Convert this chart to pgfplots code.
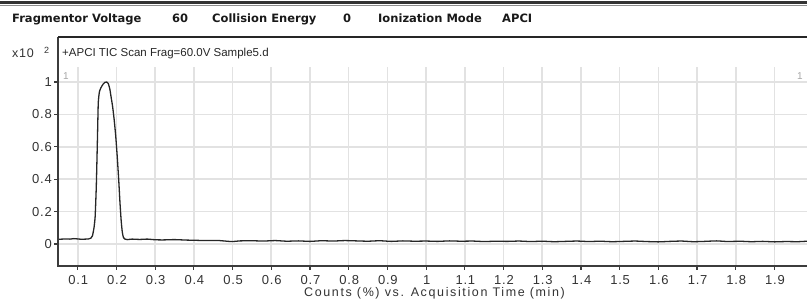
\documentclass[border=0pt]{standalone}
\usepackage{fontspec}
\setmainfont{Liberation Sans}
\newfontfamily\hdr{DejaVu Sans}
\newfontfamily\axf[LetterSpace=13]{Liberation Sans}
\newfontfamily\tkf[LetterSpace=6]{Liberation Sans}
\usepackage{pgfplots}
\pgfplotsset{compat=1.18}
\definecolor{gridc}{HTML}{E2E2E2}
\definecolor{framec}{HTML}{3C3C3C}
\begin{document}
\begin{tikzpicture}[x=1pt,y=1pt]
\useasboundingbox (0,0) rectangle (807,302);
\draw[line width=2.5pt, black!80] (0,299.5) -- (807,299.5);
\draw[line width=1.2pt, black!45] (0,296.5) -- (807,296.5);
\begin{scope}[every node/.style={anchor=base west, inner sep=0pt, font=\hdr\bfseries\fontsize{11.5}{11.5}\selectfont, text=black!90}]
\node at (12,279.5) {Fragmentor Voltage};
\node at (172,279.5) {60};
\node at (212,279.5) {Collision Energy};
\node at (343,279.5) {0};
\node at (378,279.5) {Ionization Mode};
\node at (502,279.5) {APCI};
\end{scope}
\begin{axis}[
  at={(58pt,36pt)}, anchor=south west,
  scale only axis, width=749pt, height=229pt,
  xmin=0.049, xmax=1.984, ymin=-0.136, ymax=1.278,
  axis line style={draw=none},
  xtick={0.1,0.2,0.3,0.4,0.5,0.6,0.7,0.8,0.9,1,1.1,1.2,1.3,1.4,1.5,1.6,1.7,1.8,1.9},
  xticklabels={0.1,0.2,0.3,0.4,0.5,0.6,0.7,0.8,0.9,1,1.1,1.2,1.3,1.4,1.5,1.6,1.7,1.8,1.9},
  ytick={0,0.2,0.4,0.6,0.8,1},
  yticklabels={0,0.2,0.4,0.6,0.8,1},
  tick pos=left, tick align=outside,
  major tick length=4pt,
  tick style={framec, line width=1.2pt},
  ticklabel style={font=\tkf\fontsize{13}{13}\selectfont, text=black!80},
  /pgf/number format/assume math mode=true,
  xticklabel style={inner sep=0pt, yshift=-5pt, xshift=0.5pt},
  yticklabel style={inner sep=0pt, xshift=-2pt},
  xlabel={Counts (\%) vs. Acquisition Time (min)},
  xlabel style={font=\axf\fontsize{12.5}{12.5}\selectfont, text=black!80, inner sep=0pt,
    at={(rel axis cs:0.5,0)}, anchor=base, yshift=-31pt, xshift=2pt},
  clip=false,
]
\pgfplotsinvokeforeach{0.1,0.2,0.3,0.4,0.5,0.6,0.7,0.8,0.9,1,1.1,1.2,1.3,1.4,1.5,1.6,1.7,1.8,1.9}{
  \draw[gridc, line width=1.6pt] (axis cs:#1,-0.136) -- (axis cs:#1,1.09);
}
\pgfplotsinvokeforeach{0,0.2,0.4,0.6,0.8,1}{
  \draw[gridc, line width=1.6pt] (axis cs:0.049,#1) -- (axis cs:1.984,#1);
}
\addplot[black!85, line width=1.3pt, smooth, tension=0.3] coordinates {
(0.049,0.029) (0.06,0.030) (0.07,0.031) (0.08,0.030) (0.09,0.033) (0.10,0.031)
(0.11,0.029) (0.12,0.030) (0.128,0.031) (0.134,0.036) (0.138,0.05) (0.142,0.10)
(0.145,0.17) (0.148,0.36) (0.151,0.66) (0.153,0.87) (0.156,0.94) (0.160,0.965)
(0.165,0.985) (0.170,0.998) (0.175,1.0) (0.179,0.99) (0.183,0.955) (0.186,0.91)
(0.190,0.85) (0.194,0.77) (0.198,0.67) (0.202,0.54) (0.206,0.39) (0.209,0.26)
(0.212,0.15) (0.215,0.075) (0.218,0.040) (0.222,0.030) (0.228,0.027) (0.24,0.030) (0.26,0.028)
(0.28,0.030) (0.30,0.026) (0.32,0.025) (0.35,0.027) (0.38,0.024) (0.40,0.023)
(0.43,0.021) (0.46,0.022) (0.49,0.016) (0.50,0.015) (0.52,0.019) (0.55,0.020)
(0.58,0.018) (0.61,0.021) (0.64,0.017) (0.67,0.019) (0.70,0.016) (0.73,0.020)
(0.76,0.018) (0.79,0.021) (0.82,0.019) (0.85,0.017) (0.88,0.020) (0.91,0.016)
(0.94,0.019) (0.97,0.017) (1.00,0.018) (1.03,0.016) (1.06,0.019) (1.09,0.017)
(1.12,0.018) (1.15,0.015) (1.18,0.017) (1.21,0.016) (1.24,0.018) (1.27,0.015)
(1.30,0.017) (1.33,0.014) (1.36,0.016) (1.39,0.018) (1.42,0.015) (1.45,0.017)
(1.48,0.014) (1.51,0.016) (1.54,0.018) (1.57,0.015) (1.60,0.013) (1.63,0.016)
(1.66,0.018) (1.69,0.014) (1.72,0.016) (1.75,0.019) (1.78,0.015) (1.81,0.017)
(1.84,0.014) (1.87,0.016) (1.90,0.013) (1.93,0.015) (1.96,0.014) (1.984,0.017)
};
\draw[framec, line width=2.6pt] (rel axis cs:0,1) -- (rel axis cs:0,0) -- (rel axis cs:1,0);
\draw[black!85, line width=1.2pt] (rel axis cs:0,1) -- (rel axis cs:1,1);
\end{axis}
\node[anchor=base west, inner sep=0pt, font=\fontsize{11.5}{11.5}\selectfont, text=black!85] at (62,245) {+APCI TIC Scan Frag=60.0V Sample5.d};
\node[anchor=base west, inner sep=0pt, font=\tkf\fontsize{12.5}{12.5}\selectfont, text=black!80] at (12,244) {x10};
\node[anchor=base west, inner sep=0pt, font=\fontsize{9}{9}\selectfont, text=black!80] at (44,248) {2};
\node[anchor=base west, inner sep=0pt, font=\fontsize{10}{10}\selectfont, text=black!35] at (63,222) {1};
\node[anchor=base west, inner sep=0pt, font=\fontsize{10}{10}\selectfont, text=black!35] at (797,222) {1};
\end{tikzpicture}
\end{document}
